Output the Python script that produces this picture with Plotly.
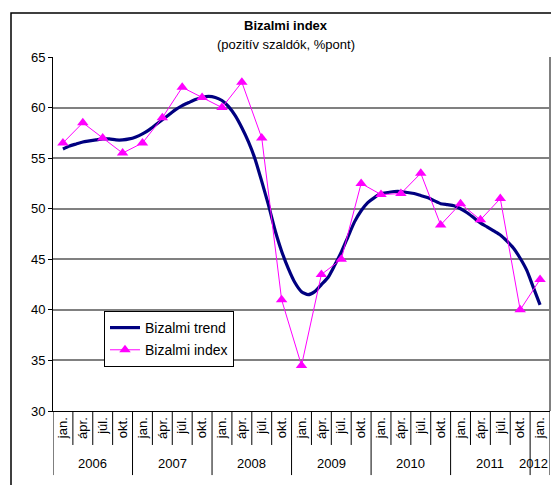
import plotly.graph_objects as go

# ---- data ----
years = ["2006", "2007", "2008", "2009", "2010", "2011", "2012"]
quarter_labels = ["jan.", "ápr.", "júl.", "okt."]
index_values = [56.5, 58.5, 57.0, 55.5, 56.5, 59.0, 62.0, 61.0, 60.0, 62.5, 57.0, 41.0,
                34.5, 43.5, 45.0, 52.5, 51.4, 51.5, 53.5, 48.4, 50.5, 48.9, 51.0, 40.0, 43.0]
trend_values = [55.9, 56.2, 56.4, 56.6, 56.7, 56.8, 56.9, 56.9, 56.8, 56.8, 56.9, 57.1,
                57.4, 57.8, 58.3, 58.8, 59.3, 59.8, 60.2, 60.5, 60.8, 61.0, 61.1, 61.0,
                60.7, 60.1, 59.2, 58.0, 56.6, 54.9, 52.7, 50.4, 47.9, 45.8, 44.1, 42.7,
                41.8, 41.5, 41.8, 42.5, 43.2, 44.4, 45.7, 47.2, 48.7, 49.8, 50.6, 51.1,
                51.5, 51.6, 51.7, 51.7, 51.6, 51.5, 51.3, 51.1, 50.8, 50.5, 50.4, 50.3,
                50.0, 49.6, 49.1, 48.6, 48.2, 47.8, 47.4, 46.8, 46.1, 45.1, 43.9, 42.2,
                40.5]

FONT = "Arial, Liberation Sans, sans-serif"
n = len(index_values)
idx_x = [3 * i for i in range(n)]
trend_x = list(range(len(trend_values)))
tick_text = [quarter_labels[i % 4] for i in range(n)]

fig = go.Figure()
fig.add_trace(go.Scatter(
    x=trend_x, y=trend_values, mode="lines", name="Bizalmi trend", legendgroup="a",
    line=dict(color="#000080", width=3.2, shape="spline", smoothing=0.6)))
fig.add_trace(go.Scatter(
    x=idx_x, y=index_values, mode="lines+markers", name="Bizalmi index", legendgroup="b",
    line=dict(color="#FF00FF", width=1),
    marker=dict(symbol="triangle-up", size=10, color="#FF00FF")))

shapes = []
# category separators
for i in range(n + 1):
    xv = 3 * i - 1.5
    is_year = (i % 4 == 0) or i == n
    shapes.append(dict(type="line", xref="x", yref="paper", x0=xv, x1=xv,
                       y0=0, y1=-0.181 if is_year else -0.096,
                       line=dict(color="black", width=1)))
# right plot border (gray)
shapes.append(dict(type="line", xref="paper", yref="paper", x0=1, x1=1, y0=0, y1=1,
                   line=dict(color="#808080", width=2)))
# outer chart border
shapes.append(dict(type="rect", xref="paper", yref="paper", x0=-0.0845, x1=1.05,
                   y0=-0.25, y1=1.124, line=dict(color="black", width=1.5)))

annotations = [
    dict(text="<b>Bizalmi index</b>", xref="paper", yref="paper", x=0.469, y=1.0876,
         xanchor="center", yanchor="middle", showarrow=False,
         font=dict(size=13, color="black", family=FONT)),
    dict(text="(pozitív szaldók, %pont)", xref="paper", yref="paper", x=0.469, y=1.0367,
         xanchor="center", yanchor="middle", showarrow=False,
         font=dict(size=13, color="black", family=FONT)),
]
for k, yr in enumerate(years):
    first = 12 * k
    last = min(12 * k + 9, idx_x[-1])
    annotations.append(dict(text=yr, xref="x", yref="paper", x=(first + last) / 2,
                            y=-0.147, yanchor="middle", showarrow=False,
                            xshift=-7 if yr == "2012" else 0,
                            font=dict(size=13, color="black", family=FONT)))

fig.update_layout(
    width=551, height=477,
    margin=dict(l=45, r=9, t=49, b=74),
    paper_bgcolor="white", plot_bgcolor="white",
    font=dict(family=FONT, size=13, color="black"),
    showlegend=True,
    legend=dict(x=0.1026, y=0.2825, xanchor="left", yanchor="top",
                bgcolor="white", bordercolor="black", borderwidth=1,
                tracegroupgap=1,
                font=dict(size=14, family=FONT, color="black")),
    shapes=shapes, annotations=annotations,
    xaxis=dict(range=[-1.5, 73.5], tickvals=idx_x, ticktext=tick_text, tickangle=-90,
               showgrid=False, zeroline=False, showline=True, linecolor="black",
               linewidth=1, ticks="", tickfont=dict(size=13, family=FONT)),
    yaxis=dict(range=[30, 65], dtick=5, tick0=30, showgrid=True, gridcolor="#808080",
               gridwidth=2, zeroline=False, showline=True, linecolor="black",
               linewidth=1, ticks="outside", ticklen=4, tickcolor="black",
               tickfont=dict(size=13, family=FONT)),
)

fig.write_html("out.html")
